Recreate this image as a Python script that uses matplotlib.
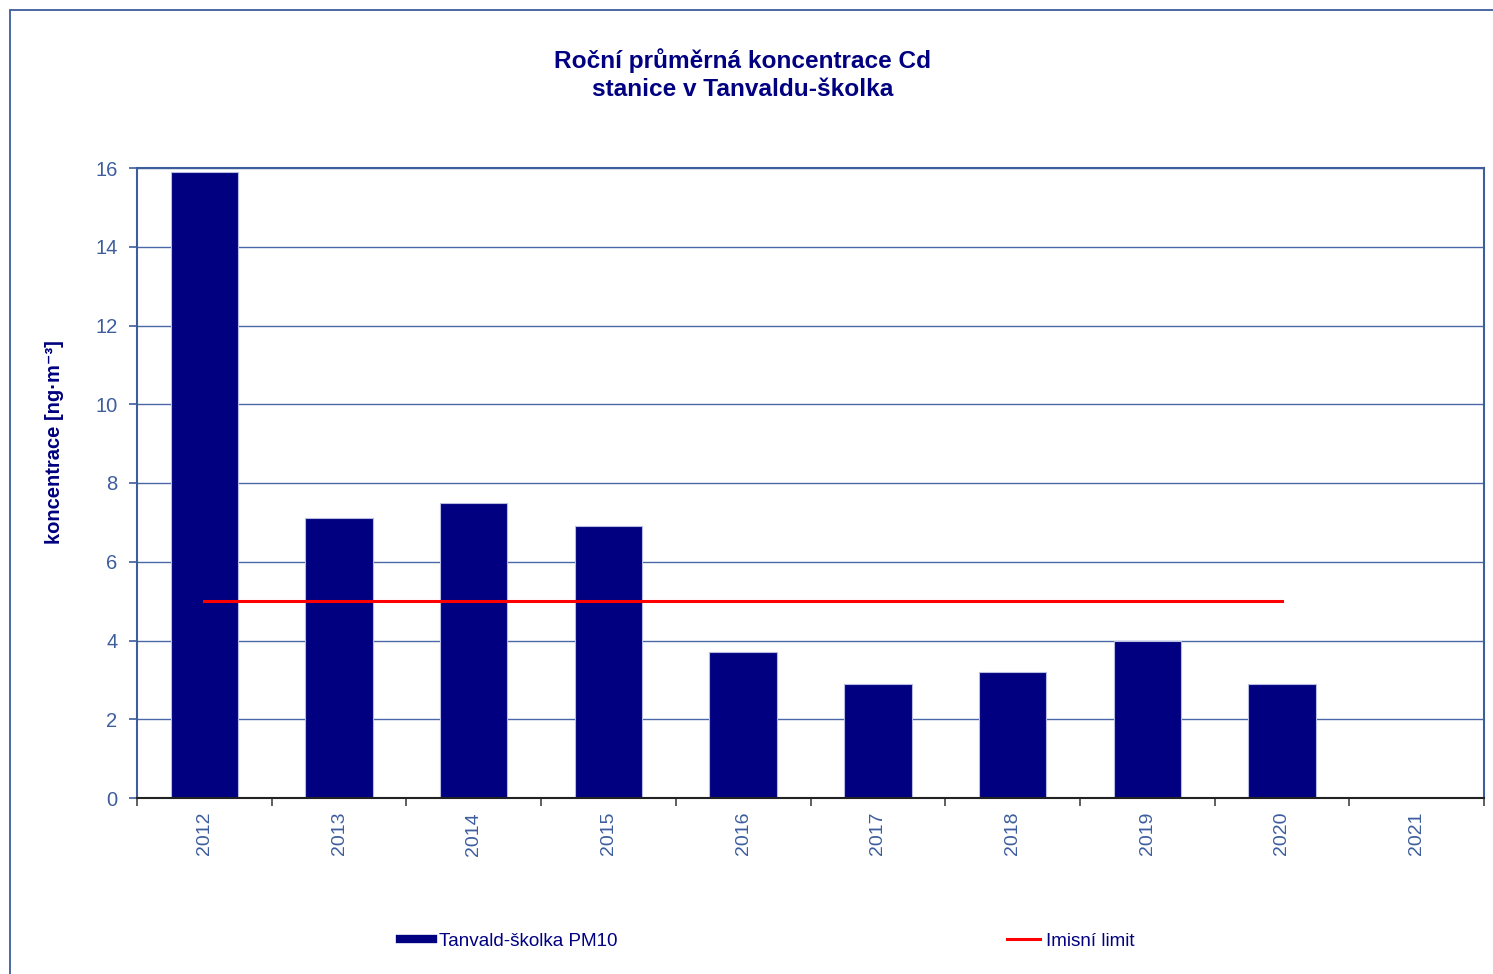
import matplotlib
matplotlib.use("Agg")
import matplotlib.pyplot as plt
from matplotlib.lines import Line2D
from matplotlib.patches import Rectangle
import numpy as np

plt.rcParams['font.family'] = ['Liberation Sans', 'DejaVu Sans']

# Annual mean Cd concentration, Tanvald-školka PM10 [ng/m3]
years = ["2012", "2013", "2014", "2015", "2016", "2017", "2018", "2019", "2020", "2021"]
cd_values = [15.9, 7.1, 7.5, 6.9, 3.7, 2.9, 3.2, 4.0, 2.9, np.nan]
limit_values = [5, 5, 5, 5, 5, 5, 5, 5, 5, np.nan]
y_ticks = [0, 2, 4, 6, 8, 10, 12, 14, 16]

title_text = "Roční průměrná koncentrace Cd\nstanice v Tanvaldu-školka"
ylabel_text = "koncentrace [ng·m⁻³]"
bar_label = "Tanvald-školka PM10"
limit_label = "Imisní limit"

navy = "#000080"
axis_blue = "#3d5d9d"
grid_blue = "#4a68a8"

W, H = 1493, 974
fig = plt.figure(figsize=(W / 100, H / 100), dpi=100)
fig.patch.set_facecolor("white")

# outer chart frame
fig.patches.append(Rectangle((10 / W, -0.05), 1.1, 1 - 10 / H + 0.05,
                             transform=fig.transFigure, fill=False,
                             edgecolor=axis_blue, linewidth=1.3))

ax = fig.add_axes([137 / W, 1 - 798 / H, (1484 - 137) / W, (798 - 168) / H])

x = np.arange(len(years))
ax.bar(x, cd_values, width=0.5, color=navy, edgecolor="#b8bce0",
       linewidth=0.8, zorder=2)
ax.plot(x, limit_values, color="#ff0000", linewidth=2.2, zorder=3)

ax.set_xlim(-0.5, len(years) - 0.5)
ax.set_ylim(0, 16)
ax.set_yticks(y_ticks)
ax.yaxis.grid(True, color=grid_blue, linewidth=1.0, zorder=0)
ax.set_axisbelow(True)

# category boundaries carry the tick marks, centres carry the labels
ax.set_xticks(np.arange(-0.5, len(years), 1.0))
ax.set_xticklabels([])
ax.set_xticks(x, minor=True)
ax.set_xticklabels(years, minor=True, rotation=90, fontsize=14,
                   color=axis_blue)
ax.tick_params(axis="x", which="major", direction="out", length=6,
               width=1.2, color="#444444")
ax.tick_params(axis="x", which="minor", length=0, pad=10)
ax.tick_params(axis="y", direction="out", length=6, width=1.2,
               color=axis_blue, labelsize=14.5, labelcolor=axis_blue, pad=8)

for side in ("left", "top", "right"):
    ax.spines[side].set_color(axis_blue)
    ax.spines[side].set_linewidth(1.5)
ax.spines["bottom"].set_color("#222222")
ax.spines["bottom"].set_linewidth(1.5)

fig.text(743 / W, 1 - 74.5 / H, title_text, ha="center", va="center",
         fontsize=17.6, fontweight="bold", color=navy, linespacing=1.3)
fig.text(55 / W, 1 - 442 / H, ylabel_text, rotation=90, ha="center",
         va="center", fontsize=14.5, fontweight="bold", color=navy)

h_bar = Line2D([], [], color=navy, linewidth=6)
h_lim = Line2D([], [], color="#ff0000", linewidth=2.2)
leg1 = fig.legend([h_bar], [bar_label], loc="center left",
                  bbox_to_anchor=(383 / W, 1 - 941 / H), frameon=False,
                  fontsize=13.6, handlelength=1.75, handletextpad=0.3,
                  labelcolor=navy)
leg2 = fig.legend([h_lim], [limit_label], loc="center left",
                  bbox_to_anchor=(990 / W, 1 - 941 / H), frameon=False,
                  fontsize=13.6, handlelength=1.75, handletextpad=0.3,
                  labelcolor=navy)

fig.savefig("out.png", dpi=100, facecolor="white")
